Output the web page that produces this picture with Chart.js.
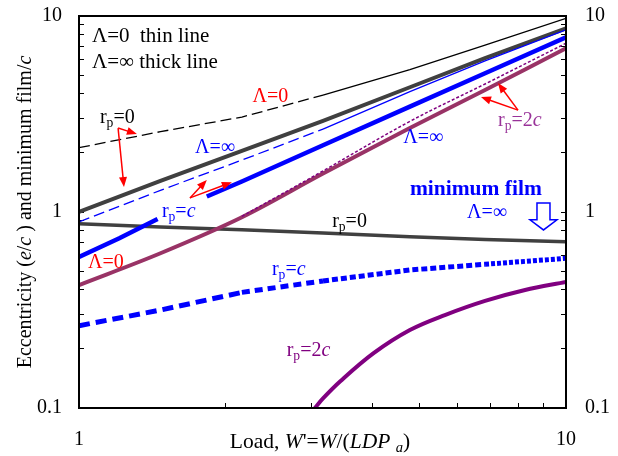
<!DOCTYPE html>
<html><head><meta charset="utf-8">
<script src="https://cdn.jsdelivr.net/npm/chart.js@4.4.1/dist/chart.umd.min.js"></script>
<style>html,body{margin:0;background:#fff}canvas{display:block}</style>
</head><body>
<canvas id="c" width="618" height="456"></canvas>
<script>
/* Journal bearing: eccentricity and minimum film vs load (log-log) */

// ── data ─────────────────────────────────────────────────
const LOAD = [1, 1.47, 2.16, 3.17, 4.78, 6.82, 10];
const ECC_R0_THIN = [2.13, 2.57, 3.05, 3.95, 5.33, 7.11, 9.73];   // Λ=0, rp=0
const ECC_R0_THICK = [1.0, 1.44, 2.05, 2.92, 4.33, 6.09, 8.65];   // Λ=∞, rp=0
const ECC_RC_THIN = [0.89, 1.29, 1.84, 2.65, 4.11, 5.9, 8.5];     // Λ=0, rp=c
const LOAD_RC_THICK = [1, 1.21, 1.45, 1.6, 1.83, 2.16, 3.17, 4.78, 6.82, 10];
const ECC_RC_THICK = [0.59, 0.734, 0.92, null, 1.2, 1.43, 2.19, 3.45, 5.1, 7.79];
const ECC_R2C_THICK = [0.424, 0.616, 0.94, 1.57, 2.68, 4.19, 6.84];
const LOAD_R2C_THIN = [2.16, 3.17, 4.78, 6.82, 10];
const ECC_R2C_THIN = [0.95, 1.62, 2.9, 4.5, 7.26];
const FILM_R0 = [0.87, 0.838, 0.812, 0.781, 0.748, 0.724, 0.706];
const FILM_RC = [0.263, 0.316, 0.389, 0.445, 0.506, 0.541, 0.58];
const LOAD_FILM_R2C = [3.05, 3.17, 3.44, 4.02, 4.78, 5.64, 6.82, 8.24, 10];
const FILM_R2C = [0.1, 0.112, 0.137, 0.19, 0.25, 0.298, 0.352, 0.40, 0.44];

const X_TICKS = [1, 2, 3, 4, 5, 6, 7, 8, 9, 10];
const X_LABELS = [1, 10];
const Y_TICKS = [0.1, 0.2, 0.3, 0.4, 0.5, 0.6, 0.7, 0.8, 0.9, 1, 2, 3, 4, 5, 6, 7, 8, 9, 10];
const Y_LABELS = [0.1, 1, 10];

const BLACK = '#000000', GREY = '#404040', BLUE = '#0000ff', RED = '#ff0000',
      MAUVE = '#993366', PURPLE = '#800080', PLUM = '#993399';
const FAMILY = '"Liberation Serif", "Times New Roman", serif';

const pts = (xs, ys) => xs.map((x, i) => ({ x, y: ys[i] }));
const line = (xs, ys, color, width, extra) => Object.assign({
  data: pts(xs, ys), borderColor: color, borderWidth: width, pointRadius: 0,
  fill: false, tension: 0, borderCapStyle: 'butt',
}, extra || {});
const curved = { tension: 0.35 };

// thin Λ=0 curves are dashed on the low-load side only
const dashLeft = { segment: { borderDash: (s) => (s.p1.parsed.x <= 3.2 ? [11, 5] : []) } };
const filmDash = { segment: { borderDash: (s) => {
  const x = s.p0.parsed.x;
  return x < 2 ? [11, 6] : x < 3 ? [8, 5] : x < 6 ? [6, 3] : [4, 2];
} } };

// ── annotations (positions in data units) ────────────────
const NOTES = [
  { t: 'Λ=0  thin line', x: 1.063, y: 7.37, c: BLACK, s: 21 },
  { t: 'Λ=∞ thick line', x: 1.063, y: 5.43, c: BLACK, s: 21 },
  { t: 'r_p=0', x: 1.104, y: 2.85, c: BLACK },
  { t: 'Λ=0', x: 2.27, y: 3.64, c: RED },
  { t: 'Λ=∞', x: 1.73, y: 2.0, c: BLUE },
  { t: 'r_p=*c*', x: 1.48, y: 0.943, c: BLUE },
  { t: 'Λ=0', x: 1.043, y: 0.518, c: RED },
  { t: 'Λ=∞', x: 4.63, y: 2.25, c: BLUE },
  { t: 'r_p=2*c*', x: 7.25, y: 2.75, c: PLUM },
  { t: 'minimum film', x: 4.78, y: 1.22, c: BLUE, b: true, s: 21.5 },
  { t: 'Λ=∞', x: 6.26, y: 0.93, c: BLUE },
  { t: 'r_p=0', x: 3.31, y: 0.838, c: BLACK },
  { t: 'r_p=*c*', x: 2.49, y: 0.477, c: BLUE },
  { t: 'r_p=2*c*', x: 2.67, y: 0.184, c: PURPLE },
];
const ARROWS = [   // x0, y0, x1, y1
  [1.203, 2.68, 1.315, 2.50],
  [1.203, 2.68, 1.237, 1.34],
  [1.69, 1.18, 1.83, 1.456],
  [1.69, 1.18, 2.06, 1.42],
  [7.97, 3.31, 7.25, 4.55],
  [7.97, 3.31, 6.69, 3.86],
];
const DOWN_ARROW = { x: 8.99, top: 1.11, tip: 0.81 };
const X_TITLE = "Load, *W*'=*W*/(*LDP* _*a*)";
const Y_TITLE = 'Eccentricity (*e*/*c* ) and minimum film/*c*';

// tiny markup: *x* italic, _p subscript
function parse(str) {
  return str.split(/(_\*\w\*|_\w|\*[^*]+\*)/).filter(Boolean).map((s) => {
    if (s[0] === '_') return { t: s.replace(/[_*]/g, ''), sub: true, it: s.includes('*') };
    if (s[0] === '*') return { t: s.slice(1, -1), it: true };
    return { t: s };
  });
}
function fontOf(p, size, bold) {
  const s = p.sub ? size * 0.68 : size;
  return `${p.it ? 'italic ' : ''}${bold ? 'bold ' : ''}${s}px ${FAMILY}`;
}
function measure(ctx, parts, size, bold) {
  return parts.reduce((w, p) => { ctx.font = fontOf(p, size, bold); return w + ctx.measureText(p.t).width; }, 0);
}
function drawRuns(ctx, str, x, y, size, color, bold) {
  const parts = parse(str);
  ctx.fillStyle = color; ctx.textAlign = 'left'; ctx.textBaseline = 'alphabetic';
  parts.forEach((p) => {
    ctx.font = fontOf(p, size, bold);
    ctx.fillText(p.t, x, y + (p.sub ? size * 0.2 : 0));
    x += ctx.measureText(p.t).width;
  });
}

const deco = {
  id: 'deco',
  afterDraw(chart) {
    const { ctx, chartArea: a, scales: { x, y } } = chart;
    const px = (v) => x.getPixelForValue(v), py = (v) => y.getPixelForValue(v);
    ctx.save();
    ctx.strokeStyle = BLACK; ctx.lineWidth = 2;
    ctx.strokeRect(a.left, a.top, a.right - a.left, a.bottom - a.top);

    // red pointer arrows
    ctx.strokeStyle = RED; ctx.fillStyle = RED; ctx.lineWidth = 1.5;
    ARROWS.forEach(([x0, y0, x1, y1]) => {
      const X0 = px(x0), Y0 = py(y0), X1 = px(x1), Y1 = py(y1);
      const ang = Math.atan2(Y1 - Y0, X1 - X0), L = 10, W = 4;
      ctx.beginPath(); ctx.moveTo(X0, Y0);
      ctx.lineTo(X1 - L * 0.8 * Math.cos(ang), Y1 - L * 0.8 * Math.sin(ang)); ctx.stroke();
      ctx.beginPath(); ctx.moveTo(X1, Y1);
      ctx.lineTo(X1 - L * Math.cos(ang) + W * Math.sin(ang), Y1 - L * Math.sin(ang) - W * Math.cos(ang));
      ctx.lineTo(X1 - L * Math.cos(ang) - W * Math.sin(ang), Y1 - L * Math.sin(ang) + W * Math.cos(ang));
      ctx.closePath(); ctx.fill();
    });

    // hollow block arrow
    const cx = px(DOWN_ARROW.x), top = py(DOWN_ARROW.top), tip = py(DOWN_ARROW.tip);
    const neck = top + (tip - top) * 0.62;
    ctx.beginPath();
    ctx.moveTo(cx - 6.5, top); ctx.lineTo(cx + 6.5, top); ctx.lineTo(cx + 6.5, neck);
    ctx.lineTo(cx + 13.5, neck); ctx.lineTo(cx, tip); ctx.lineTo(cx - 13.5, neck);
    ctx.lineTo(cx - 6.5, neck); ctx.closePath();
    ctx.fillStyle = '#fff'; ctx.fill();
    ctx.strokeStyle = BLUE; ctx.lineWidth = 1.5; ctx.stroke();

    NOTES.forEach((n) => drawRuns(ctx, n.t, px(n.x), py(n.y), n.s || 20, n.c, n.b));

    // axis titles
    const xw = measure(ctx, parse(X_TITLE), 21.5);
    drawRuns(ctx, X_TITLE, 320 - xw / 2, 448, 21.5, BLACK);
    const yw = measure(ctx, parse(Y_TITLE), 20);
    ctx.translate(31, (a.top + a.bottom) / 2);
    ctx.rotate(-Math.PI / 2);
    drawRuns(ctx, Y_TITLE, -yw / 2, 0, 20, BLACK);
    ctx.restore();
  },
};

const tickFont = { family: FAMILY, size: 20 };
const logAxis = (ticks, labels, size, extra) => Object.assign({
  type: 'logarithmic',
  afterBuildTicks: (s) => { s.ticks = ticks.map((v) => ({ value: v })); },
  afterFit: (s) => {
    Object.assign(s, size);
    s.paddingTop = s.paddingBottom = s.paddingLeft = s.paddingRight = 0;
  },
  grid: { drawOnChartArea: false, tickLength: -5, color: BLACK, lineWidth: 1 },
  border: { display: false },
  ticks: { autoSkip: false, maxRotation: 0, color: BLACK, font: tickFont,
    callback: (v) => (labels.includes(v) ? String(v) : '') },
}, extra);

new Chart(document.getElementById('c'), {
  type: 'line',
  data: {
    datasets: [
      line(LOAD_R2C_THIN, ECC_R2C_THIN, PURPLE, 1.5, { borderDash: [3, 2], tension: 0.35 }),
      line(LOAD, ECC_R0_THIN, BLACK, 1.3, dashLeft),
      line(LOAD, ECC_RC_THIN, BLUE, 1.3, dashLeft),
      line(LOAD, ECC_R0_THICK, GREY, 4),
      line(LOAD_RC_THICK, ECC_RC_THICK, BLUE, 4.5),
      line(LOAD, ECC_R2C_THICK, MAUVE, 4, curved),
      line(LOAD, FILM_R0, GREY, 3.5),
      line(LOAD, FILM_RC, BLUE, 5, filmDash),
      line(LOAD_FILM_R2C, FILM_R2C, PURPLE, 4, curved),
    ],
  },
  options: {
    responsive: false, animation: false,
    layout: { padding: { top: 16, left: 0, right: 0, bottom: 0 } },
    plugins: { legend: { display: false }, tooltip: { enabled: false } },
    scales: {
      x: logAxis(X_TICKS, X_LABELS, { height: 48 }, { position: 'bottom', min: 1, max: 10 }),
      y: logAxis(Y_TICKS, Y_LABELS, { width: 79 }, { position: 'left', min: 0.1, max: 10 }),
      y2: logAxis(Y_TICKS, Y_LABELS, { width: 52 }, { position: 'right', min: 0.1, max: 10 }),
    },
  },
  plugins: [deco],
});
// label padding depends on inward ticks
const ch = Chart.getChart('c');
ch.options.scales.x.ticks.padding = 25;
ch.options.scales.y.ticks.padding = 22;
ch.options.scales.y2.ticks.padding = 24;
ch.update();
</script>
</body></html>
